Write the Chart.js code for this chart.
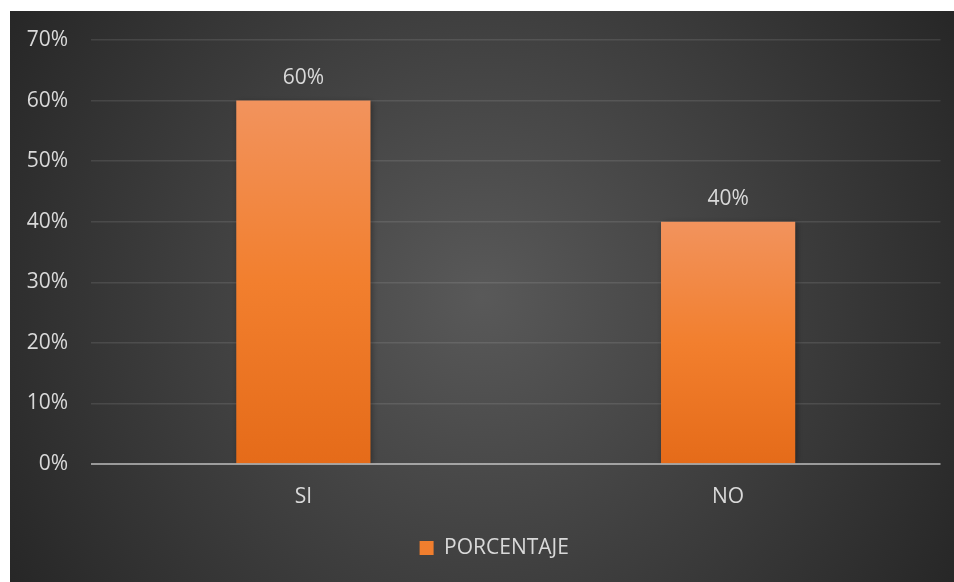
<!DOCTYPE html>
<html>
<head>
<meta charset="utf-8">
<script src="https://cdn.jsdelivr.net/npm/chart.js@4.4.1/dist/chart.umd.min.js"></script>
<style>
    html, body { margin: 0; padding: 0; background: #fff; }
    #wrap { position: absolute; left: 10px; top: 11px; width: 944px; height: 571px; }
</style>
</head>
<body>
<div id="wrap"><canvas id="chart"></canvas></div>
<script>
/* data */
const categories = ['SI', 'NO'];
const porcentaje = [60, 40];
const seriesName = 'PORCENTAJE';
const yMax = 70;
const yStep = 10;

const textColor = '#d9d9d9';
const fontFamily = "'Open Sans', 'Noto Sans', sans-serif";

// dark radial background like the Excel chart style
const bgPlugin = {
    id: 'bg',
    beforeDraw(chart) {
        const { ctx, width, height } = chart;
        const g = ctx.createRadialGradient(width / 2, height / 2, 0, width / 2, height / 2, 560);
        g.addColorStop(0, '#595959');
        g.addColorStop(1, '#262626');
        ctx.save();
        ctx.fillStyle = g;
        ctx.fillRect(0, 0, width, height);
        ctx.restore();
    }
};

// the legend sits a bit right of centre in the original
const legendShift = {
    id: 'legendShift',
    afterLayout(chart) {
        if (!chart.legend) return;
        chart.legend.left += 19;
        chart.legend.right += 19;
    }
};

// bar shadow
const shadowPlugin = {
    id: 'barShadow',
    beforeDatasetDraw(chart) {
        const ctx = chart.ctx;
        ctx.save();
        ctx.shadowColor = 'rgba(0,0,0,0.35)';
        ctx.shadowBlur = 6;
        ctx.shadowOffsetX = 2;
        ctx.shadowOffsetY = 1;
    },
    afterDatasetDraw(chart) {
        chart.ctx.restore();
    }
};

// zero line over the bars + value labels
const overlayPlugin = {
    id: 'overlay',
    afterDatasetsDraw(chart) {
        const { ctx, chartArea, scales } = chart;
        const y0 = scales.y.getPixelForValue(0);
        ctx.save();
        ctx.strokeStyle = 'rgba(255,255,255,0.5)';
        ctx.lineWidth = 2;
        ctx.beginPath();
        ctx.moveTo(chartArea.left, y0);
        ctx.lineTo(chartArea.right, y0);
        ctx.stroke();

        ctx.fillStyle = textColor;
        ctx.font = '21px ' + fontFamily;
        ctx.textAlign = 'center';
        ctx.textBaseline = 'middle';
        chart.getDatasetMeta(0).data.forEach((bar, i) => {
            ctx.fillText(porcentaje[i] + '%', bar.x, bar.y - 23);
        });
        ctx.restore();
    }
};

function barGradient(c) {
    const { chart } = c;
    const { chartArea, scales } = chart;
    if (!chartArea) return '#F07E2E';
    const v = porcentaje[c.dataIndex];
    const top = scales.y.getPixelForValue(v);
    const bottom = scales.y.getPixelForValue(0);
    const g = chart.ctx.createLinearGradient(0, top, 0, bottom);
    g.addColorStop(0, '#F2935D');
    g.addColorStop(0.5, '#F27F2E');
    g.addColorStop(1, '#E56B19');
    return g;
}

new Chart(document.getElementById('chart'), {
    type: 'bar',
    data: {
        labels: categories,
        datasets: [{
            label: seriesName,
            data: porcentaje,
            backgroundColor: barGradient,
            borderWidth: 0,
            categoryPercentage: 1,
            barPercentage: 0.316
        }]
    },
    options: {
        responsive: true,
        maintainAspectRatio: false,
        animation: false,
        layout: { padding: { left: 0, right: 13.5, top: 29, bottom: 13.5 } },
        plugins: {
            legend: {
                position: 'bottom',
                labels: {
                    color: textColor,
                    font: { family: fontFamily, size: 21 },
                    boxWidth: 14, boxHeight: 14,
                    padding: 10,
                    generateLabels: () => [{
                        text: seriesName, fillStyle: '#F07E2E', strokeStyle: '#F07E2E',
                        lineWidth: 0, fontColor: textColor, datasetIndex: 0
                    }]
                }
            },
            tooltip: { enabled: false }
        },
        scales: {
            x: {
                grid: { display: false },
                border: { display: false },
                ticks: { color: textColor, font: { family: fontFamily, size: 21 }, padding: 12 },
                afterFit: s => { s.height = 63.5; }
            },
            y: {
                min: 0, max: yMax,
                grid: {
                    drawTicks: false,
                    lineWidth: 1.5,
                    color: c => c.tick && c.tick.value === 0 ? 'rgba(0,0,0,0)' : 'rgba(255,255,255,0.1)'
                },
                border: { display: false },
                ticks: {
                    stepSize: yStep,
                    color: textColor,
                    font: { family: fontFamily, size: 21 },
                    padding: 23,
                    callback: v => v + '%'
                },
                afterFit: s => {
                    s.width = 81;
                    s.paddingTop = 0;
                    s.paddingBottom = 0;
                }
            }
        }
    },
    plugins: [bgPlugin, legendShift, shadowPlugin, overlayPlugin]
});
</script>
</body>
</html>
